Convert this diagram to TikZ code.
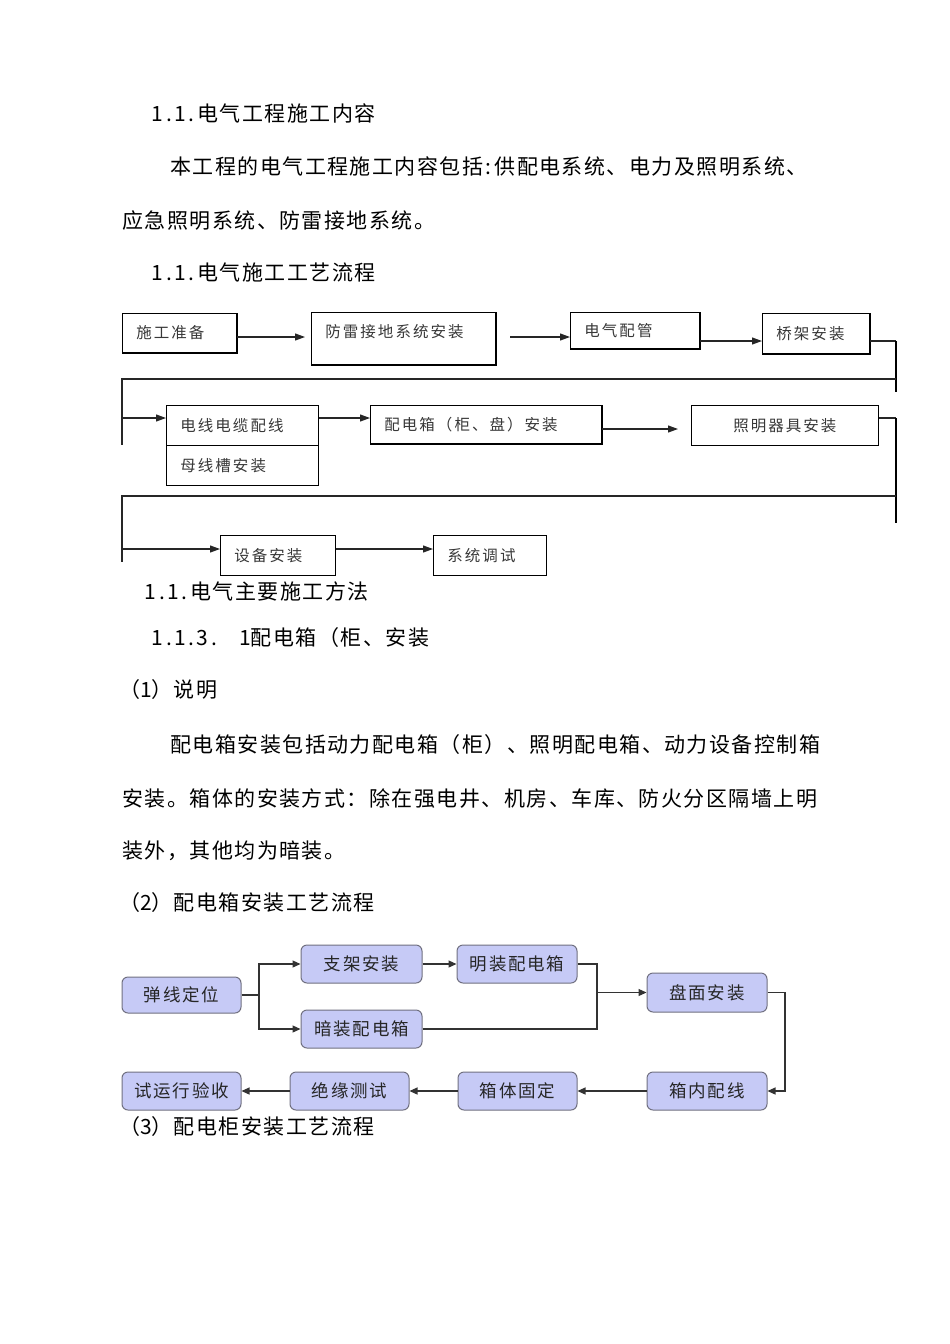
\documentclass[tikz,border=0pt]{standalone}
\usepackage{fontspec}
\setmainfont{Noto Sans CJK SC}
\newfontfamily\bodyfont[LetterSpace=7]{Noto Sans CJK SC}
\newfontfamily\tboxfont[LetterSpace=13]{Noto Sans CJK SC}
\newfontfamily\bboxfont[LetterSpace=10]{Noto Sans CJK SC}
\usetikzlibrary{arrows.meta,calc}
\definecolor{lav}{RGB}{198,202,246}
\definecolor{lavborder}{RGB}{112,112,128}
\newcommand\hc[1]{\makebox[11.25pt][c]{#1}}
\begin{document}
\begin{tikzpicture}[x=1pt,y=-1pt,
  body/.style={anchor=west, inner sep=0pt, font=\bodyfont\fontsize{21pt}{25pt}\selectfont, text=black},
  tbox/.style={draw, line width=0.9pt, anchor=north west, inner xsep=14pt, inner ysep=0pt, align=left,
     font=\tboxfont\fontsize{15.5pt}{18pt}\selectfont, text=black!78},
  tline/.style={line width=1.1pt, black!85},
  thick vline/.style={line width=2.4pt, black},
  tarrow/.style={tline, -{Triangle[length=10pt,width=7pt]}},
  bbox/.style={draw=lavborder, line width=1pt, fill=lav, rounded corners=6pt, inner sep=0pt,
     minimum width=120pt, minimum height=37pt, font=\bboxfont\fontsize{17.5pt}{20pt}\selectfont, text=black!85},
  bline/.style={line width=1.2pt, black!80},
  barrow/.style={bline, -{Triangle[length=8pt,width=7pt]}}
]
\useasboundingbox[fill=white] (0,0) rectangle (950,1344);

% ---------- body text ----------
\node[body] (h1) at (152,113) {\hc{1}\hc{.}\hc{1}\hc{.}电气工程施工内容};
\node[body] (p1) at (170,167) {本工程的电气工程施工内容包括\hc{:}供配电系统、电力及照明系统、};
\node[body] (p2) at (122,221) {应急照明系统、防雷接地系统。};
\node[body] (h2) at (152,272) {\hc{1}\hc{.}\hc{1}\hc{.}电气施工工艺流程};
\node[body] (h3) at (145,591) {\hc{1}\hc{.}\hc{1}\hc{.}电气主要施工方法};
\node[body] (h4) at (152,638) {\hc{1}\hc{.}\hc{1}\hc{.}\hc{3}\hc{.}\hspace{20pt}\hc{1}配电箱（柜、安装};
\node[body] (h5) at (119,690) {（\hc{1}）说明};
\node[body] (p3) at (170,745) {配电箱安装包括动力配电箱（柜）、照明配电箱、动力设备控制箱};
\node[body] (p4) at (122,799) {安装。箱体的安装方式：除在强电井、机房、车库、防火分区隔墙上明};
\node[body] (p5) at (122,851) {装外，其他均为暗装。};
\node[body] (h6) at (119,903) {（\hc{2}）配电箱安装工艺流程};
\node[body] (h7) at (119,1127) {（\hc{3}）配电柜安装工艺流程};

% ---------- top flowchart ----------
\node[tbox, text width=86pt, minimum height=39pt] (A) at (122,313) {施工准备};
\node[tbox, text width=156pt, minimum height=52pt, text height=13pt, text depth=15pt] (B) at (311,312) {防雷接地系统安装};
\node[tbox, text width=101pt, minimum height=36pt] (C) at (570,312) {电气配管};
\node[tbox, text width=79pt, minimum height=40pt] (D) at (762,313) {桥架安装};
\node[tbox, text width=124pt, minimum height=40pt] (E1) at (166,405) {电线电缆配线};
\node[tbox, text width=124pt, minimum height=40pt] (E2) at (166,445) {母线槽安装};
\node[tbox, text width=203pt, minimum height=38pt] (F) at (370,405) {配电箱（柜、盘）安装};
\node[tbox, text width=159pt, minimum height=40pt, align=center] (G) at (691,405) {照明器具安装};
\node[tbox, text width=87pt, minimum height=40pt] (H) at (220,535) {设备安装};
\node[tbox, text width=85pt, minimum height=40pt] (I) at (433,535) {系统调试};

% slight shadow edges
\foreach \n in {A,B,C,D,F}
  \draw[line width=1.6pt] (\n.north east) -- (\n.south east) -- (\n.south west);

% connectors row 1
\draw[tarrow, shorten >=6pt] (A.east |- 0,337) -- (B.west |- 0,337);
\coordinate (bc) at (510,337);
\draw[tarrow] (bc) -- (C.west |- bc);
\draw[tarrow] (C.east |- 0,341) -- (D.west |- 0,341);
\coordinate (r1) at (896,341);
\coordinate (r1e) at (896,392);
\draw[tline] (D.east |- r1) -- (r1);
\draw[thick vline] (r1) -- (r1e);
\coordinate (m1) at (896,379);
\coordinate (l1) at (122,379);
\coordinate (l1e) at (122,445);
\draw[tline] (m1) -- (l1) -- (l1e);
\coordinate (l1a) at (122,418);
\draw[tarrow] (l1a) -- (E1.west |- l1a);

% row 2
\draw[tarrow] (E1.east |- 0,418) -- (F.west |- 0,418);
\coordinate (fg) at (678,429);
\draw[tarrow] (F.east |- fg) -- (fg);
\coordinate (r2) at (896,418);
\coordinate (r2e) at (896,523);
\draw[tline] (G.east |- r2) -- (r2);
\draw[thick vline] (r2) -- (r2e);
\coordinate (m2) at (896,496);
\coordinate (l2) at (122,496);
\coordinate (l2e) at (122,562);
\draw[tline] (m2) -- (l2) -- (l2e);
\coordinate (l2a) at (122,549);
\draw[tarrow] (l2a) -- (H.west |- l2a);

% row 3
\draw[tarrow] (H.east |- 0,549) -- (I.west |- 0,549);

% ---------- bottom flowchart ----------
\node[bbox, minimum width=119pt, minimum height=36pt] (P1) at (181.5,995) {弹线定位};
\node[bbox, minimum width=121pt, minimum height=38pt] (P2) at (361.5,964) {支架安装};
\node[bbox, minimum width=121pt, minimum height=38pt] (P3) at (361.5,1029) {暗装配电箱};
\node[bbox, minimum height=38pt] (P4) at (517,964) {明装配电箱};
\node[bbox, minimum height=39pt] (P5) at (707,992.5) {盘面安装};
\node[bbox, minimum height=38pt] (Q4) at (707,1091) {箱内配线};
\node[bbox, minimum width=119pt, minimum height=38pt] (Q3) at (517.5,1091) {箱体固定};
\node[bbox, minimum width=119pt, minimum height=38pt] (Q2) at (349.5,1091) {绝缘测试};
\node[bbox, minimum width=119pt, minimum height=38pt] (Q1) at (181.5,1091) {试运行验收};

\coordinate (j1) at (259,995);
\draw[bline] (P1.east) -- (j1);
\draw[barrow] (j1) |- (P2.west);
\draw[barrow] (j1) |- (P3.west);
\draw[barrow] (P2.east) -- (P4.west);
\coordinate (j2) at (597,992.5);
\draw[bline] (P4.east) -| (j2);
\draw[bline] (P3.east) -| (j2);
\draw[barrow] (j2) -- (P5.west);
\coordinate (j3) at (785,1091);
\draw[barrow] (P5.east) -| (j3) -- (Q4.east);
\draw[barrow] (Q4.west) -- (Q3.east);
\draw[barrow] (Q3.west) -- (Q2.east);
\draw[barrow] (Q2.west) -- (Q1.east);
\end{tikzpicture}
\end{document}
